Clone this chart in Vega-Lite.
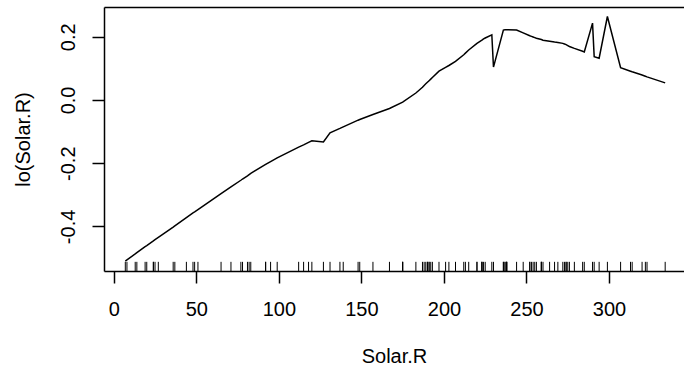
{
  "$schema": "https://vega.github.io/schema/vega-lite/v6.json",
  "autosize": {"type": "none"},
  "width": 580,
  "height": 264,
  "padding": {"left": 104, "top": 7, "right": 0, "bottom": 96},
  "background": "white",
  "config": {
    "view": {"stroke": null},
    "font": "Liberation Sans",
    "axis": {
      "grid": false,
      "domainColor": "black",
      "domainWidth": 1.5,
      "tickColor": "black",
      "tickWidth": 1.5,
      "tickSize": 12,
      "labelColor": "black",
      "labelFont": "Liberation Sans",
      "labelFontSize": 20,
      "titleColor": "black",
      "titleFont": "Liberation Sans",
      "titleFontSize": 20,
      "titleFontWeight": "normal"
    }
  },
  "datasets": {
    "fit": [
      {"solar": 7, "fit": -0.510}, {"solar": 8, "fit": -0.506}, {"solar": 13, "fit": -0.487},
      {"solar": 14, "fit": -0.483}, {"solar": 19, "fit": -0.464}, {"solar": 20, "fit": -0.461},
      {"solar": 24, "fit": -0.446}, {"solar": 25, "fit": -0.442}, {"solar": 27, "fit": -0.435},
      {"solar": 36, "fit": -0.402}, {"solar": 37, "fit": -0.398}, {"solar": 44, "fit": -0.372},
      {"solar": 48, "fit": -0.357}, {"solar": 49, "fit": -0.354}, {"solar": 51, "fit": -0.347},
      {"solar": 65, "fit": -0.296}, {"solar": 71, "fit": -0.275}, {"solar": 77, "fit": -0.254},
      {"solar": 78, "fit": -0.250}, {"solar": 81, "fit": -0.240}, {"solar": 82, "fit": -0.236},
      {"solar": 83, "fit": -0.232}, {"solar": 92, "fit": -0.204}, {"solar": 95, "fit": -0.195},
      {"solar": 99, "fit": -0.183}, {"solar": 112, "fit": -0.149}, {"solar": 115, "fit": -0.142},
      {"solar": 118, "fit": -0.134}, {"solar": 120, "fit": -0.129}, {"solar": 127, "fit": -0.133},
      {"solar": 131, "fit": -0.104}, {"solar": 137, "fit": -0.090}, {"solar": 139, "fit": -0.085},
      {"solar": 148, "fit": -0.064}, {"solar": 149, "fit": -0.062}, {"solar": 157, "fit": -0.046},
      {"solar": 167, "fit": -0.027}, {"solar": 175, "fit": -0.007}, {"solar": 183, "fit": 0.022},
      {"solar": 187, "fit": 0.040}, {"solar": 188, "fit": 0.046}, {"solar": 189, "fit": 0.051},
      {"solar": 190, "fit": 0.056}, {"solar": 191, "fit": 0.061}, {"solar": 192, "fit": 0.066},
      {"solar": 193, "fit": 0.071}, {"solar": 197, "fit": 0.091}, {"solar": 201, "fit": 0.103},
      {"solar": 203, "fit": 0.109}, {"solar": 207, "fit": 0.122}, {"solar": 212, "fit": 0.143},
      {"solar": 213, "fit": 0.148}, {"solar": 215, "fit": 0.158}, {"solar": 220, "fit": 0.179},
      {"solar": 223, "fit": 0.189}, {"solar": 224, "fit": 0.193}, {"solar": 225, "fit": 0.196},
      {"solar": 229, "fit": 0.206}, {"solar": 230, "fit": 0.104}, {"solar": 236, "fit": 0.221},
      {"solar": 237, "fit": 0.222}, {"solar": 238, "fit": 0.222}, {"solar": 244, "fit": 0.221},
      {"solar": 248, "fit": 0.212}, {"solar": 252, "fit": 0.203}, {"solar": 253, "fit": 0.201},
      {"solar": 254, "fit": 0.199}, {"solar": 255, "fit": 0.197}, {"solar": 256, "fit": 0.195},
      {"solar": 259, "fit": 0.191}, {"solar": 260, "fit": 0.189}, {"solar": 264, "fit": 0.186},
      {"solar": 267, "fit": 0.183}, {"solar": 269, "fit": 0.182}, {"solar": 272, "fit": 0.179},
      {"solar": 273, "fit": 0.177}, {"solar": 274, "fit": 0.175}, {"solar": 275, "fit": 0.172},
      {"solar": 276, "fit": 0.169}, {"solar": 279, "fit": 0.163}, {"solar": 284, "fit": 0.154},
      {"solar": 285, "fit": 0.152}, {"solar": 290, "fit": 0.243}, {"solar": 291, "fit": 0.137},
      {"solar": 294, "fit": 0.132}, {"solar": 299, "fit": 0.264}, {"solar": 307, "fit": 0.102},
      {"solar": 313, "fit": 0.091}, {"solar": 314, "fit": 0.089}, {"solar": 320, "fit": 0.079},
      {"solar": 322, "fit": 0.075}, {"solar": 323, "fit": 0.073}, {"solar": 334, "fit": 0.054}
    ],
    "rug": [
      {"solar": 190}, {"solar": 118}, {"solar": 149}, {"solar": 313}, {"solar": 299}, {"solar": 99},
      {"solar": 19}, {"solar": 256}, {"solar": 290}, {"solar": 274}, {"solar": 65}, {"solar": 334},
      {"solar": 307}, {"solar": 78}, {"solar": 322}, {"solar": 44}, {"solar": 8}, {"solar": 320},
      {"solar": 25}, {"solar": 92}, {"solar": 13}, {"solar": 252}, {"solar": 223}, {"solar": 279},
      {"solar": 127}, {"solar": 291}, {"solar": 323}, {"solar": 148}, {"solar": 191}, {"solar": 284},
      {"solar": 37}, {"solar": 120}, {"solar": 137}, {"solar": 269}, {"solar": 248}, {"solar": 236},
      {"solar": 175}, {"solar": 314}, {"solar": 276}, {"solar": 267}, {"solar": 272}, {"solar": 175},
      {"solar": 264}, {"solar": 175}, {"solar": 48}, {"solar": 260}, {"solar": 274}, {"solar": 285},
      {"solar": 187}, {"solar": 220}, {"solar": 7}, {"solar": 294}, {"solar": 223}, {"solar": 81},
      {"solar": 82}, {"solar": 213}, {"solar": 275}, {"solar": 253}, {"solar": 254}, {"solar": 83},
      {"solar": 24}, {"solar": 77}, {"solar": 255}, {"solar": 229}, {"solar": 207}, {"solar": 192},
      {"solar": 273}, {"solar": 157}, {"solar": 71}, {"solar": 51}, {"solar": 115}, {"solar": 244},
      {"solar": 190}, {"solar": 259}, {"solar": 36}, {"solar": 212}, {"solar": 238}, {"solar": 215},
      {"solar": 203}, {"solar": 225}, {"solar": 237}, {"solar": 188}, {"solar": 167}, {"solar": 197},
      {"solar": 183}, {"solar": 189}, {"solar": 95}, {"solar": 92}, {"solar": 252}, {"solar": 220},
      {"solar": 230}, {"solar": 259}, {"solar": 236}, {"solar": 259}, {"solar": 238}, {"solar": 24},
      {"solar": 112}, {"solar": 237}, {"solar": 224}, {"solar": 27}, {"solar": 238}, {"solar": 201},
      {"solar": 238}, {"solar": 14}, {"solar": 139}, {"solar": 49}, {"solar": 20}, {"solar": 193},
      {"solar": 191}, {"solar": 131}, {"solar": 223}
    ]
  },
  "layer": [
    {
      "data": {"name": "rug"},
      "mark": {"type": "rule", "color": "black", "strokeWidth": 1},
      "encoding": {
        "x": {
          "field": "solar",
          "type": "quantitative",
          "scale": {"domain": [-5.9, 345.4], "nice": false, "zero": false},
          "axis": {"orient": "top", "labels": false, "ticks": false, "domain": true, "title": null}
        },
        "y": {
          "datum": -0.541,
          "type": "quantitative",
          "scale": {"domain": [-0.541, 0.294], "nice": false, "zero": false},
          "axis": {
            "title": "lo(Solar.R)",
            "values": [-0.4, -0.2, 0, 0.2],
            "labelExpr": "replace(format(datum.value, '.1f'), '\u2212', '-')",
            "labelAngle": -90,
            "labelAlign": "center",
            "labelBaseline": "alphabetic",
            "labelPadding": 18,
            "titlePadding": 25
          }
        },
        "y2": {"datum": -0.512}
      }
    },
    {
      "data": {"name": "fit"},
      "mark": {"type": "line", "color": "black", "strokeWidth": 1.5},
      "encoding": {
        "x": {
          "field": "solar",
          "type": "quantitative",
          "scale": {"domain": [-5.9, 345.4], "nice": false, "zero": false},
          "axis": {
            "orient": "bottom",
            "title": "Solar.R",
            "values": [0, 50, 100, 150, 200, 250, 300],
            "format": "d",
            "labelBaseline": "alphabetic",
            "labelPadding": 32,
            "titlePadding": 27
          }
        },
        "y": {
          "field": "fit",
          "type": "quantitative",
          "scale": {"domain": [-0.541, 0.294], "nice": false, "zero": false},
          "axis": {
            "title": "lo(Solar.R)",
            "values": [-0.4, -0.2, 0, 0.2],
            "labelExpr": "replace(format(datum.value, '.1f'), '\u2212', '-')",
            "labelAngle": -90,
            "labelAlign": "center",
            "labelBaseline": "alphabetic",
            "labelPadding": 18,
            "titlePadding": 25
          }
        }
      }
    }
  ],
  "resolve": {"axis": {"x": "independent"}}
}
